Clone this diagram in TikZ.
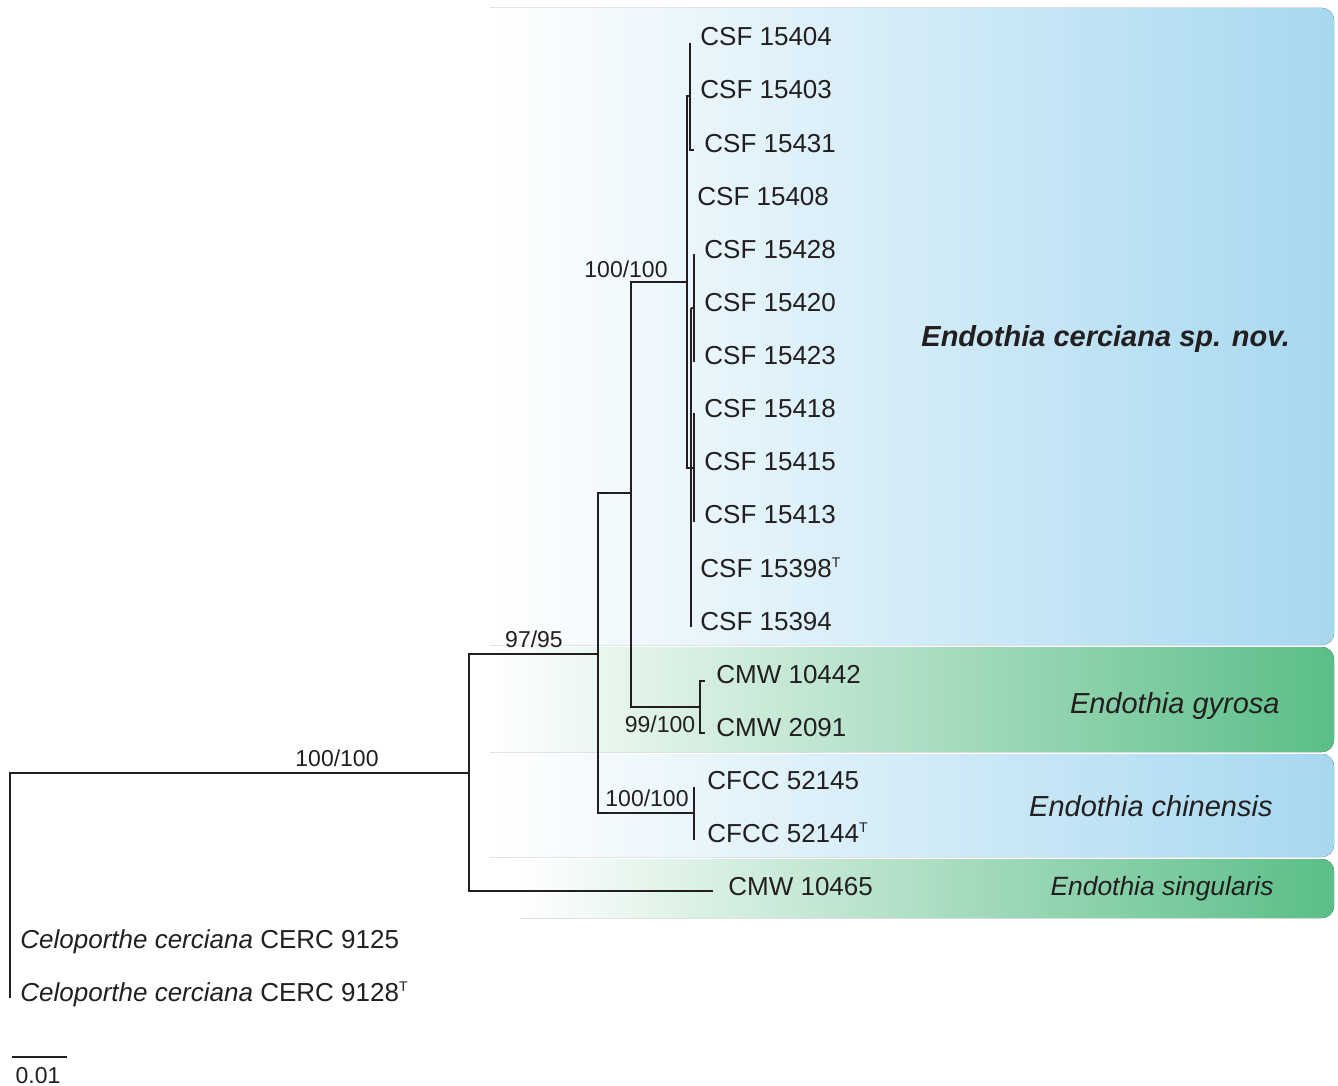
\documentclass[tikz,border=0pt]{standalone}
\usepackage{fontspec}
\setmainfont{Liberation Sans}
\usetikzlibrary{calc}
\definecolor{ink}{HTML}{231F20}
\definecolor{cladeblue}{RGB}{166,216,240}
\definecolor{cladegreen}{RGB}{90,190,135}
\tikzset{taxon/.style={font=\fontsize{13}{13}\selectfont, inner sep=0pt, anchor=base west, text=ink}}
\tikzset{bs/.style={font=\fontsize{11.5}{11.5}\selectfont, inner sep=0pt, anchor=base, text=ink}}
\tikzset{clade/.style={font=\fontsize{14.5}{14.5}\selectfont\itshape, inner sep=0pt, text=ink}}
\tikzset{br/.style={draw=ink, line width=1.45pt}}
\newcommand{\typemark}{\raisebox{4.9pt}{\fontsize{7}{7}\selectfont T}}

\begin{document}
\begin{tikzpicture}[x=0.5pt, y=-0.5pt]
  \useasboundingbox (0,0) rectangle (1338,1086);
  % clade boxes, rounded on the right only
  \fill[left color=white, right color=cladeblue] (490,8) [rounded corners=6pt] -- (1334,8) -- (1334,645) [sharp corners] -- (490,645) -- cycle;
  \fill[left color=white, right color=cladegreen] (490,647) [rounded corners=6pt] -- (1334,647) -- (1334,752) [sharp corners] -- (490,752) -- cycle;
  \fill[left color=white, right color=cladeblue] (490,754) [rounded corners=6pt] -- (1334,754) -- (1334,857) [sharp corners] -- (490,857) -- cycle;
  \fill[left color=white, right color=cladegreen] (520,859) [rounded corners=6pt] -- (1334,859) -- (1334,918) [sharp corners] -- (520,918) -- cycle;

  % internal nodes
  \coordinate (root) at (10,773);
  \coordinate (celo) at (10,998);
  \coordinate (ingr) at (469,773);
  \coordinate (endo) at (598,654);
  \coordinate (cegy) at (631,493);
  \coordinate (cerc) at (687,282);
  \coordinate (gyro) at (700,707);
  \coordinate (chin) at (694,813);
  \coordinate (sing) at (713,891);

  \draw[br] (celo) -- (root) -- (ingr);
  \draw[br] (endo) -| (ingr) |- (sing);
  \draw[br] (cegy) -| (endo) |- (chin);
  \draw[br] (cerc) -| (cegy) |- (gyro);

  % Endothia gyrosa
  \coordinate (g1) at (705,681);
  \coordinate (g2) at (705,733);
  \draw[br] (g1) -| (gyro) |- (g2);
  % Endothia chinensis
  \coordinate (c1) at (694,787);
  \coordinate (c2) at (694,840);
  \draw[br] (c1) -- (c2);

  % Endothia cerciana crown
  \coordinate (ctop) at (687,96);
  \coordinate (cbot) at (687,468);
  \coordinate (sa) at (690,96);
  \coordinate (sb) at (691,468);
  \draw[br] (sa) -- (ctop) -- (cbot) -- (sb);
  \draw[br] (690,43) -- (690,150) -- (694,150);
  \draw[br] (691,308) -- (691,627);
  \draw[br] (691,308) -- (694,308);
  \draw[br] (694,254) -- (694,362);
  \draw[br] (sb) -- (694,468);
  \draw[br] (694,413) -- (694,522);

  % taxa
  \node[taxon] (s15404) at (700,46) {CSF 15404};
  \node[taxon] (s15403) at (700,99) {CSF 15403};
  \node[taxon] (s15431) at (704,152) {CSF 15431};
  \node[taxon] (s15408) at (697,205) {CSF 15408};
  \node[taxon] (s15428) at (704,258) {CSF 15428};
  \node[taxon] (s15420) at (704,311) {CSF 15420};
  \node[taxon] (s15423) at (704,364) {CSF 15423};
  \node[taxon] (s15418) at (704,417) {CSF 15418};
  \node[taxon] (s15415) at (704,470) {CSF 15415};
  \node[taxon] (s15413) at (704,523) {CSF 15413};
  \node[taxon] (s15398) at (700,577) {CSF 15398\typemark};
  \node[taxon] (s15394) at (700,630) {CSF 15394};
  \node[taxon] (m10442) at (716,683) {CMW 10442};
  \node[taxon] (m2091) at (716,736) {CMW 2091};
  \node[taxon] (f52145) at (707,789) {CFCC 52145};
  \node[taxon] (f52144) at (707,842) {CFCC 52144\typemark};
  \node[taxon] (m10465) at (728,895) {CMW 10465};
  \node[taxon] (cc9125) at (20,948) {\textit{Celoporthe cerciana} CERC 9125};
  \node[taxon] (cc9128) at (20,1001) {\textit{Celoporthe cerciana} CERC 9128\typemark};

  % support values
  \node[bs] (bsingr) at (337,766) {100/100};
  \node[bs] (bsendo) at (534,647) {97/95};
  \node[bs] (bscerc) at (626,277) {100/100};
  \node[bs] (bsgyro) at (660,732) {99/100};
  \node[bs] (bschin) at (647,806) {100/100};

  % clade names
  \node[clade, anchor=base west] (lcerc) at (921,346) {\bfseries Endothia cerciana sp. nov.};
  \node[clade, anchor=base east] (lgyro) at (1280,713) {Endothia gyrosa};
  \node[clade, anchor=base east] (lchin) at (1273,816) {Endothia chinensis};
  \node[clade, anchor=base east, font=\fontsize{13.2}{13.2}\selectfont\itshape] (lsing) at (1274,895) {Endothia singularis};

  % scale bar
  \coordinate (sb1) at (12,1057);
  \coordinate (sb2) at (67,1057);
  \draw[draw=ink, line width=1.1pt] (sb1) -- (sb2);
  \node[bs] (sblab) at (38,1083) {0.01};
\end{tikzpicture}
\end{document}
